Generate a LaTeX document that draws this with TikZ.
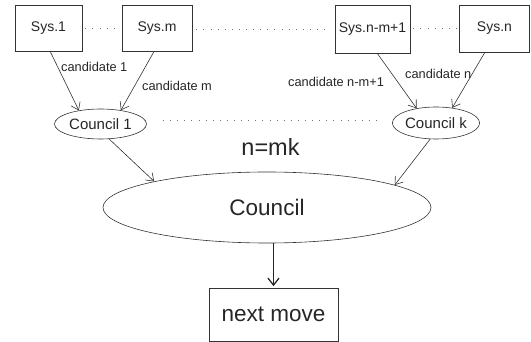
\documentclass[tikz,border=0pt]{standalone}
\usepackage{fontspec}
\setmainfont{Liberation Sans}
\usetikzlibrary{arrows.meta,shapes.geometric}
\begin{document}
\begin{tikzpicture}[x=1pt,y=-1pt,
  ln/.style={draw=black!80,line width=0.6pt},
  sysbox/.style={ln,rectangle,inner sep=0pt,font=\fontsize{14}{16}\selectfont,text=black!85},
  cbox/.style={ln,ellipse,inner sep=0pt,font=\fontsize{15}{17}\selectfont,text=black!85},
  cand/.style={anchor=base west,inner sep=0pt,font=\fontsize{12.8}{14}\selectfont,text=black!85},
  arr/.style={ln,-{Straight Barb[length=7pt,width=10pt]}},
  bigarr/.style={draw=black!85,line width=1.3pt,-{Straight Barb[length=7pt,width=11pt]}},
  dots/.style={draw=black!55,line width=0.9pt,dash pattern=on 0.9pt off 6.2pt}
]
\useasboundingbox (0,0) rectangle (531,342);

% top systems
\node[sysbox,minimum width=67pt,minimum height=46pt] (s1) at (48.5,28) {Sys.1};
\node[sysbox,minimum width=70pt,minimum height=46pt] (s2) at (157,28) {Sys.m};
\node[sysbox,minimum width=75pt,minimum height=48pt] (s3) at (372.5,29) {Sys.n-m+1};
\node[sysbox,minimum width=70.5pt,minimum height=47pt] (s4) at (494.5,28.5) {Sys.n};

% councils
\node[cbox,minimum width=92pt,minimum height=30pt] (c1) at (100.5,124) {Council 1};
\node[cbox,minimum width=87pt,minimum height=32pt] (ck) at (436,123) {Council k};
\node[cbox,minimum width=328pt,minimum height=71pt,font=\fontsize{22.5}{26}\selectfont] (big) at (267,207.5) {Council};

% next move
\node[sysbox,minimum width=129pt,minimum height=53pt,font=\fontsize{22.5}{26}\selectfont] (nm) at (273.5,314.5) {next move};

% n=mk
\node[anchor=base,inner sep=0pt,font=\fontsize{23.5}{27}\selectfont,text=black!85] (eq) at (270.5,156) {n=mk};

% dotted links
\draw[dots,shorten <=3pt,shorten >=2pt] (s1.east) -- (s2.west |- s1.east);
\draw[dots,shorten <=4pt,shorten >=4pt] (s2.east |- s3.west) -- (s3.west);
\draw[dots,shorten <=3pt,shorten >=2pt] (s3.east |- s4.west) -- (s4.west);
\coordinate (d1) at (163,120);
\coordinate (d2) at (381,120);
\draw[dots] (d1) -- (d2);

% candidate arrows
\draw[arr] (s1.-86) -- (c1.148);
\draw[arr] (s2.-97) -- (c1.34);
\draw[arr] (s3.-79) -- (ck.143);
\draw[arr] (s4.-112) -- (ck.43);

\node[cand] (l1) at (61,72) {candidate 1};
\node[cand] (l2) at (142,91) {candidate m};
\node[cand] (l3) at (288,87) {candidate n-m+1};
\node[cand] (l4) at (405,79) {candidate n};

% councils to big council
\draw[arr] (c1.-60) -- (big.167.6);
\draw[arr] (ck.-110) -- (big.10.4);

% to next move
\draw[bigarr,shorten >=1.5pt] (nm.north |- big.south) -- (nm.north);
\end{tikzpicture}
\end{document}
